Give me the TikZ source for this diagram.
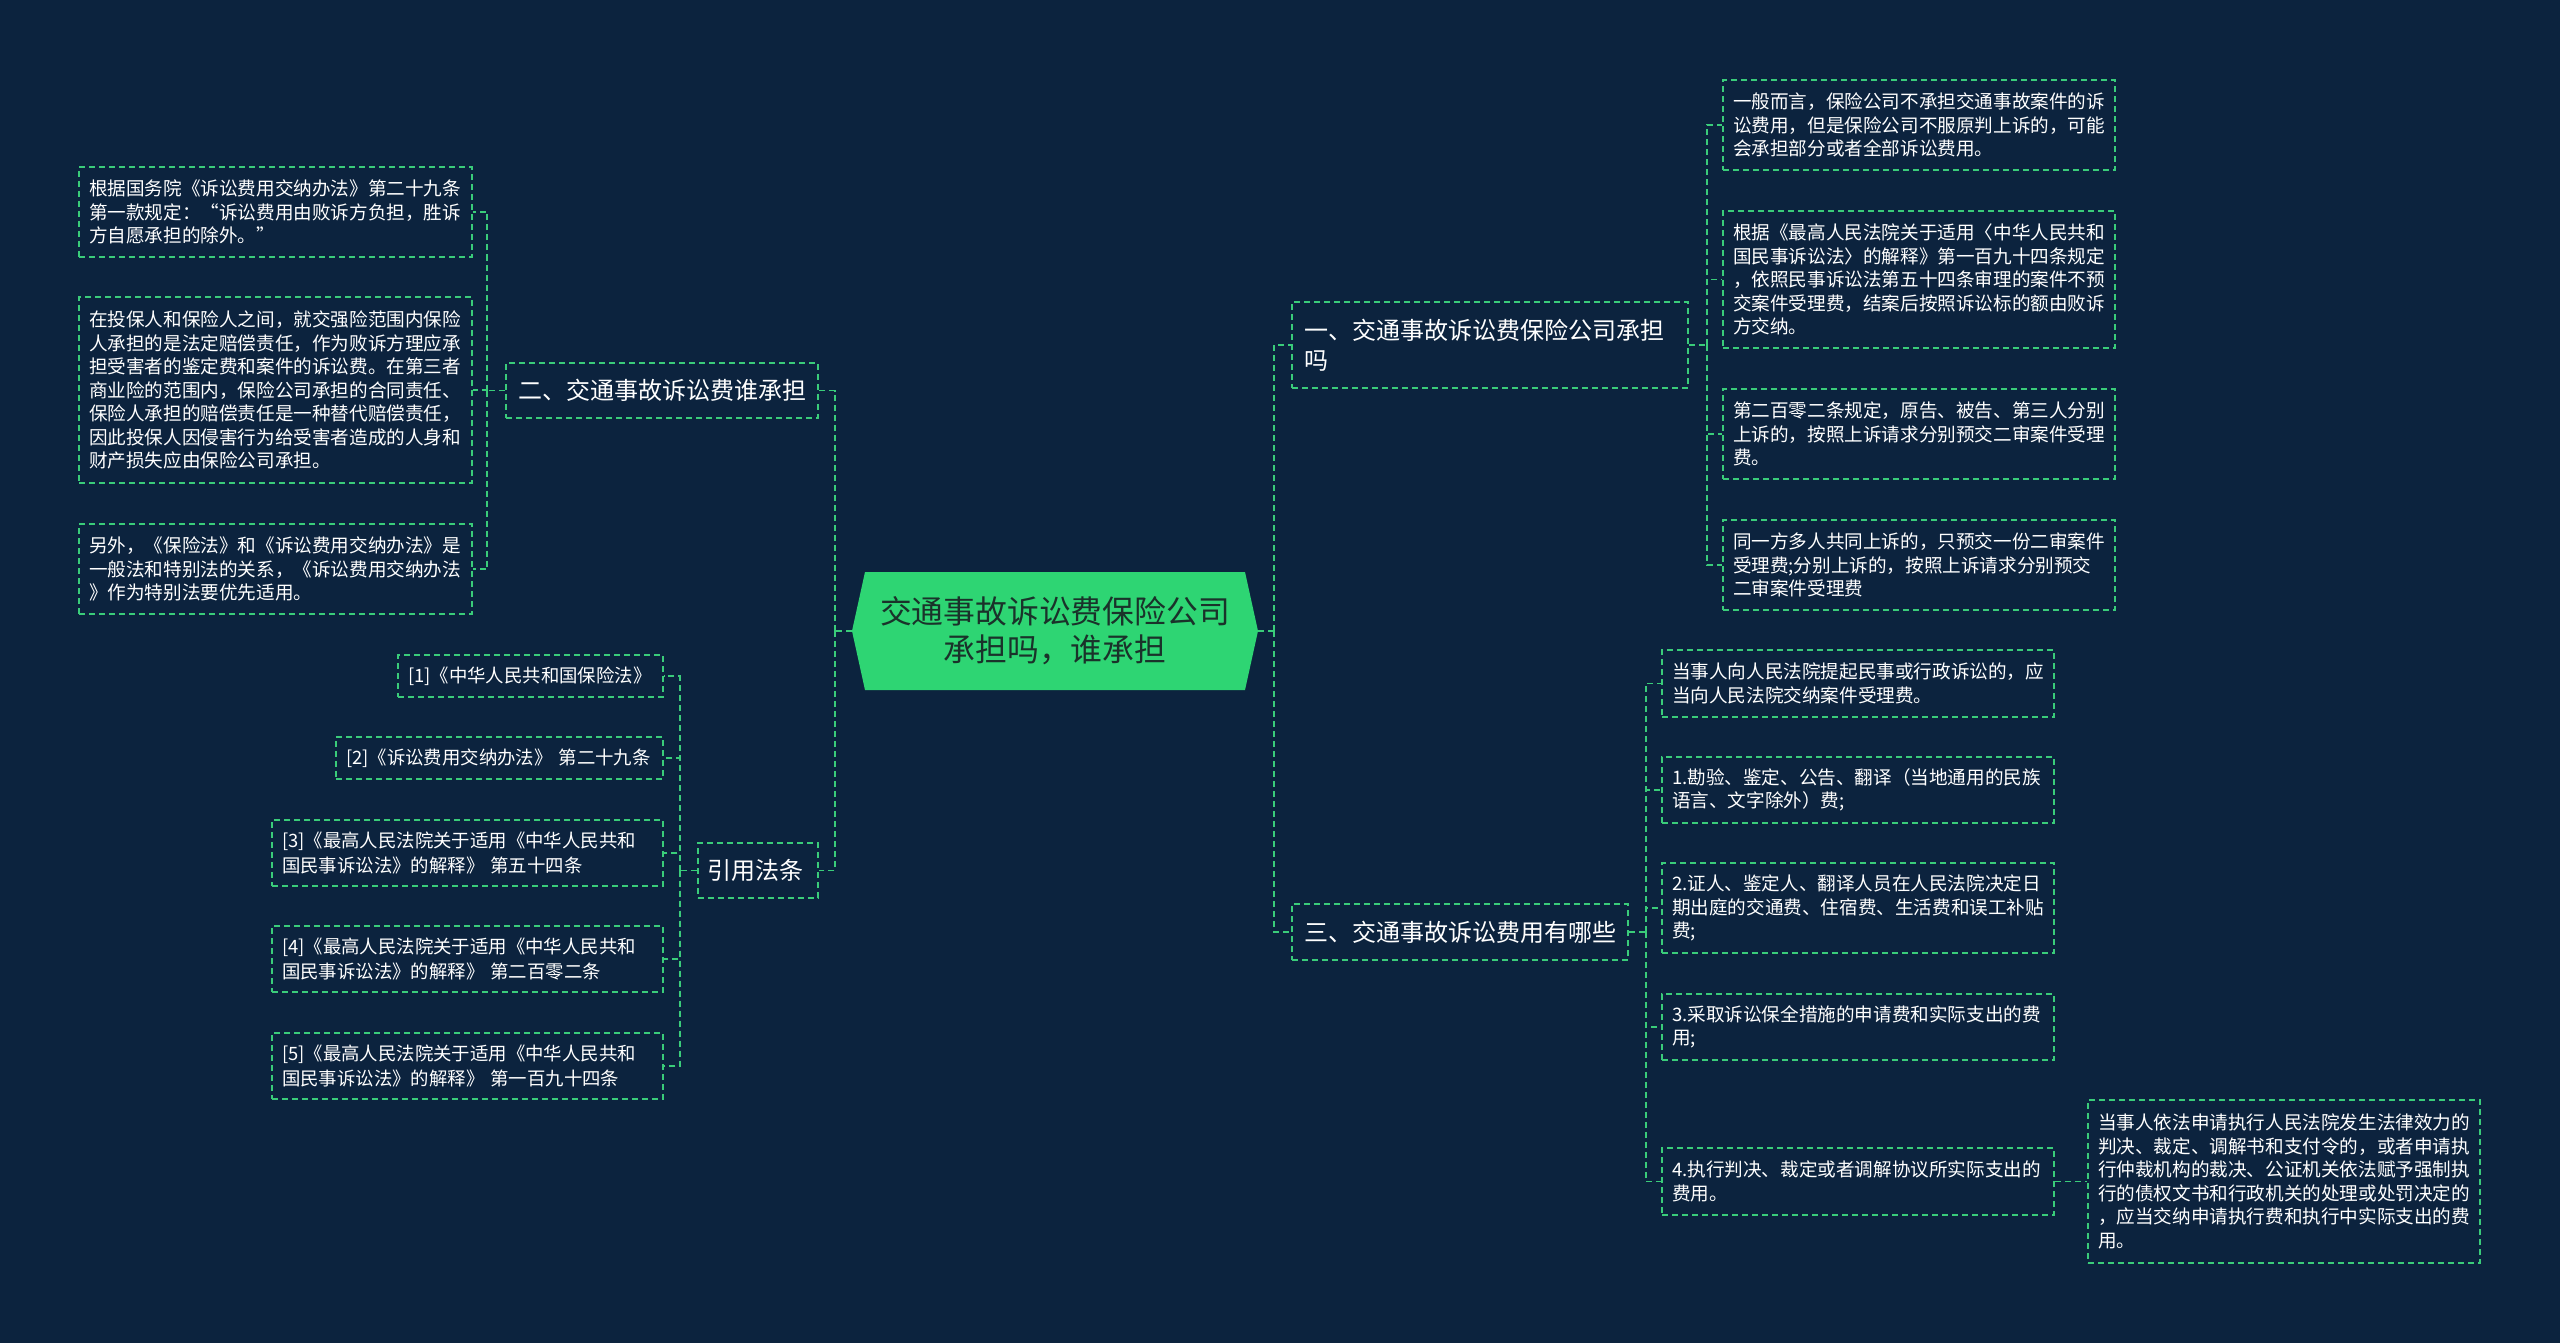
\documentclass[tikz,border=0pt]{standalone}
\usepackage{fontspec}
\setmainfont{Noto Sans CJK SC}
\usetikzlibrary{calc}
\definecolor{bgc}{RGB}{12,35,62}
\definecolor{gline}{RGB}{58,204,122}
\definecolor{cfill}{RGB}{46,213,115}
\definecolor{ctext}{RGB}{26,50,42}
\newcommand{\myfs}[2]{\fontsize{#1}{#2}\selectfont}
\tikzset{
  dsh/.style={draw=gline, line width=1.8pt, dash pattern=on 6pt off 4pt},
  conn/.style={dsh},
  leaf/.style={dsh, text=white, font=\myfs{18.6}{23.5}, align=left, inner xsep=10pt, inner ysep=0pt, anchor=center},
  refleaf/.style={dsh, text=white, font=\myfs{18.4}{24.3}, align=left, inner xsep=10pt, inner ysep=0pt, anchor=center},
  topic/.style={dsh, text=white, font=\myfs{24}{30}, align=left, inner xsep=12pt, inner ysep=0pt, anchor=center},
}
\begin{document}
\begin{tikzpicture}[x=1pt,y=-1pt]
\useasboundingbox (0,0) rectangle (2560,1343);
\fill[bgc] (0,0) rectangle (2560,1343);

% central hexagon
\coordinate (cc) at (1055,631);
\fill[cfill] ($(cc)+(-190,-59)$) -- ($(cc)+(190,-59)$) -- ($(cc)+(203,0)$) -- ($(cc)+(190,59)$) -- ($(cc)+(-190,59)$) -- ($(cc)+(-203,0)$) -- cycle;
\node[minimum width=406pt, minimum height=118pt, inner sep=0pt, align=center, text=ctext, font=\myfs{31.8}{38}] (c) at (cc) {交通事故诉讼费保险公司\\承担吗，谁承担};

% main topics
\node[topic, text width=288pt, minimum height=55pt] (two) at (662,390.5) {二、交通事故诉讼费谁承担};
\node[topic, inner xsep=10pt, text width=100pt, minimum height=55pt] (cite) at (757.7,870.5) {引用法条};
\node[topic, text width=372pt, minimum height=86pt] (one) at (1490,345) {一、交通事故诉讼费保险公司承担\\吗};
\node[topic, text width=312pt, minimum height=56pt] (three) at (1460,932) {三、交通事故诉讼费用有哪些};

% left leaves of two
\node[leaf, text width=373pt, minimum height=90pt] (l1) at (275.5,212) {根据国务院《诉讼费用交纳办法》第二十九条\\第一款规定：“诉讼费用由败诉方负担，胜诉\\方自愿承担的除外。”};
\node[leaf, text width=373pt, minimum height=186pt] (l2) at (275.5,390) {在投保人和保险人之间，就交强险范围内保险\\人承担的是法定赔偿责任，作为败诉方理应承\\担受害者的鉴定费和案件的诉讼费。在第三者\\商业险的范围内，保险公司承担的合同责任、\\保险人承担的赔偿责任是一种替代赔偿责任，\\因此投保人因侵害行为给受害者造成的人身和\\财产损失应由保险公司承担。};
\node[leaf, text width=373pt, minimum height=90pt] (l3) at (275.5,569) {另外，《保险法》和《诉讼费用交纳办法》是\\一般法和特别法的关系，《诉讼费用交纳办法\\》作为特别法要优先适用。};

% reference leaves
\node[refleaf, text width=245pt, minimum height=42pt] (r1) at (530.5,676) {[1]《中华人民共和国保险法》};
\node[refleaf, text width=307pt, minimum height=42pt] (r2) at (499.5,758) {[2]《诉讼费用交纳办法》 第二十九条};
\node[refleaf, text width=371pt, minimum height=66pt] (r3) at (467.5,853) {[3]《最高人民法院关于适用《中华人民共和\\国民事诉讼法》的解释》 第五十四条};
\node[refleaf, text width=371pt, minimum height=66pt] (r4) at (467.5,959) {[4]《最高人民法院关于适用《中华人民共和\\国民事诉讼法》的解释》 第二百零二条};
\node[refleaf, text width=371pt, minimum height=66pt] (r5) at (467.5,1066) {[5]《最高人民法院关于适用《中华人民共和\\国民事诉讼法》的解释》 第一百九十四条};

% right leaves of one
\node[leaf, text width=372pt, minimum height=90pt] (a1) at (1919,125) {一般而言，保险公司不承担交通事故案件的诉\\讼费用，但是保险公司不服原判上诉的，可能\\会承担部分或者全部诉讼费用。};
\node[leaf, text width=372pt, minimum height=137pt] (a2) at (1919,279.5) {根据《最高人民法院关于适用〈中华人民共和\\国民事诉讼法〉的解释》第一百九十四条规定\\，依照民事诉讼法第五十四条审理的案件不预\\交案件受理费，结案后按照诉讼标的额由败诉\\方交纳。};
\node[leaf, text width=372pt, minimum height=90pt] (a3) at (1919,434) {第二百零二条规定，原告、被告、第三人分别\\上诉的，按照上诉请求分别预交二审案件受理\\费。};
\node[leaf, text width=372pt, minimum height=90pt] (a4) at (1919,565) {同一方多人共同上诉的，只预交一份二审案件\\受理费;分别上诉的，按照上诉请求分别预交\\二审案件受理费};

% right leaves of three
\node[leaf, text width=372pt, minimum height=67pt] (e1) at (1858,683.5) {当事人向人民法院提起民事或行政诉讼的，应\\当向人民法院交纳案件受理费。};
\node[leaf, text width=372pt, minimum height=66pt] (e2) at (1858,790) {1.勘验、鉴定、公告、翻译（当地通用的民族\\语言、文字除外）费;};
\node[leaf, text width=372pt, minimum height=90pt] (e3) at (1858,908) {2.证人、鉴定人、翻译人员在人民法院决定日\\期出庭的交通费、住宿费、生活费和误工补贴\\费;};
\node[leaf, text width=372pt, minimum height=66pt] (e4) at (1858,1027) {3.采取诉讼保全措施的申请费和实际支出的费\\用;};
\node[leaf, text width=372pt, minimum height=67pt] (e5) at (1858,1181.5) {4.执行判决、裁定或者调解协议所实际支出的\\费用。};
\node[leaf, text width=372pt, minimum height=163pt] (f1) at (2284,1181.5) {当事人依法申请执行人民法院发生法律效力的\\判决、裁定、调解书和支付令的，或者申请执\\行仲裁机构的裁决、公证机关依法赋予强制执\\行的债权文书和行政机关的处理或处罚决定的\\，应当交纳申请执行费和执行中实际支出的费\\用。};

% connectors
\draw[conn] (c.west) -- ++(-17,0) coordinate (tl);
\draw[conn] (tl) |- (two.east);
\draw[conn] (tl) |- (cite.east);
\draw[conn] (c.east) -- ++(16,0) coordinate (tr);
\draw[conn] (tr) |- (one.west);
\draw[conn] (tr) |- (three.west);

\draw[conn] (two.west) -- ++(-18,0) coordinate (t2);
\foreach \n in {l1,l2,l3} \draw[conn] (t2) |- (\n.east);
\draw[conn] (cite.west) -- ++(-17,0) coordinate (tc);
\foreach \n in {r1,r2,r3,r4,r5} \draw[conn] (tc) |- (\n.east);
\draw[conn] (one.east) -- ++(18,0) coordinate (t1);
\foreach \n in {a1,a2,a3,a4} \draw[conn] (t1) |- (\n.west);
\draw[conn] (three.east) -- ++(17,0) coordinate (t3);
\foreach \n in {e1,e2,e3,e4,e5} \draw[conn] (t3) |- (\n.west);
\draw[conn] (e5.east) -- (f1.west);
\end{tikzpicture}
\end{document}
